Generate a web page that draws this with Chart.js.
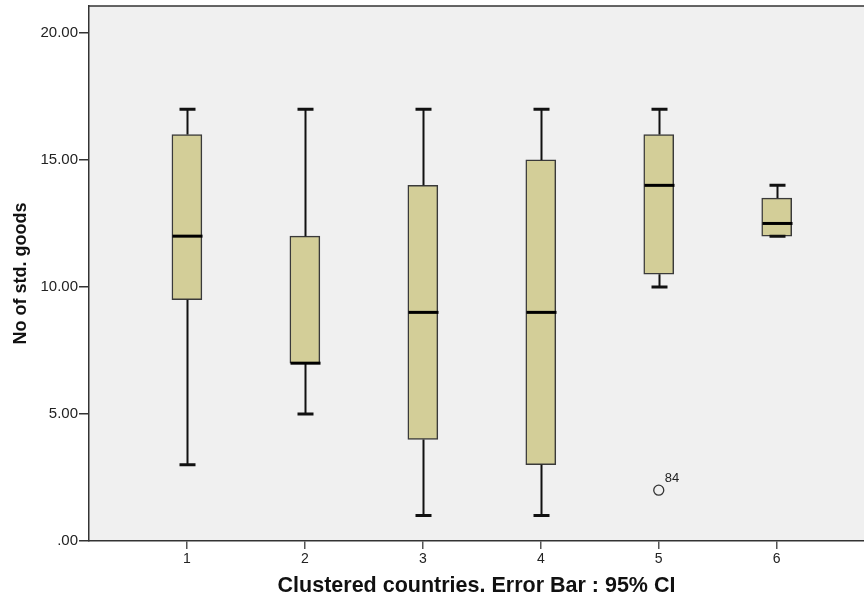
<!DOCTYPE html>
<html>
<head>
<meta charset="utf-8">
<script src="https://cdn.jsdelivr.net/npm/chart.js@4"></script>
<style>
  html, body { margin: 0; padding: 0; background: #fff; }
  #wrap { width: 864px; height: 603px; }
</style>
</head>
<body>
<div id="wrap"><canvas id="box-chart" width="864" height="603"></canvas></div>
<script>
// box plot values per cluster
const groups = ['1', '2', '3', '4', '5', '6'];
const mins = [3, 5, 1, 1, 10, 12];
const q1 = [9.5, 7, 4, 3, 10.5, 12];
const medians = [12, 7, 9, 9, 14, 12.5];
const q3 = [16, 12, 14, 15, 16, 13.5];
const maxs = [17, 17, 17, 17, 17, 14];
const outlierGroup = [5];
const outlierValue = [2];
const outlierCase = ['84'];
const yTicks = [0, 5, 10, 15, 20];

const FONT = '"Liberation Sans", Arial, sans-serif';

const whiskers = {
  id: 'whiskers',
  beforeDraw(chart) {
    const { ctx, chartArea: a } = chart;
    ctx.save();
    ctx.fillStyle = '#f0f0f0';
    ctx.fillRect(a.left, a.top, a.right - a.left, a.bottom - a.top);
    ctx.restore();
  },
  afterDatasetsDraw(chart) {
    const { ctx, chartArea: a } = chart;
    const x = chart.scales.x;
    const y = chart.scales.y;
    ctx.save();
    // top frame line
    ctx.strokeStyle = '#333';
    ctx.lineWidth = 1.5;
    ctx.beginPath();
    ctx.moveTo(a.left, a.top);
    ctx.lineTo(a.right, a.top);
    ctx.stroke();

    groups.forEach((g, i) => {
      const cx = Math.round(x.getPixelForValue(i + 1)) + 0.5;
      ctx.strokeStyle = '#111';
      ctx.lineWidth = 2;
      ctx.beginPath();
      ctx.moveTo(cx, y.getPixelForValue(q3[i]));
      ctx.lineTo(cx, y.getPixelForValue(maxs[i]));
      ctx.moveTo(cx, y.getPixelForValue(q1[i]));
      ctx.lineTo(cx, y.getPixelForValue(mins[i]));
      ctx.stroke();
      ctx.lineWidth = 3;
      ctx.beginPath();
      ctx.moveTo(cx - 8, y.getPixelForValue(maxs[i]));
      ctx.lineTo(cx + 8, y.getPixelForValue(maxs[i]));
      ctx.moveTo(cx - 8, y.getPixelForValue(mins[i]));
      ctx.lineTo(cx + 8, y.getPixelForValue(mins[i]));
      ctx.stroke();
      ctx.strokeStyle = '#000';
      ctx.beginPath();
      ctx.moveTo(cx - 15, y.getPixelForValue(medians[i]));
      ctx.lineTo(cx + 15, y.getPixelForValue(medians[i]));
      ctx.stroke();
    });

    // outlier case labels
    ctx.fillStyle = '#222';
    ctx.font = '13px ' + FONT;
    outlierGroup.forEach((g, i) => {
      ctx.fillText(outlierCase[i], x.getPixelForValue(g) + 6, y.getPixelForValue(outlierValue[i]) - 8);
    });
    ctx.restore();
  }
};

new Chart(document.getElementById('box-chart'), {
  type: 'bar',
  data: {
    datasets: [
      {
        label: 'IQR',
        data: groups.map((g, i) => ({ x: i + 1, y: [q1[i], q3[i]] })),
        backgroundColor: '#d3ce98',
        borderColor: '#3a3a3a',
        borderWidth: 1.5,
        borderSkipped: false,
        barThickness: 30,
      },
      {
        type: 'scatter',
        label: 'Outliers',
        data: outlierGroup.map((g, i) => ({ x: g, y: outlierValue[i] })),
        pointStyle: 'circle',
        pointRadius: 5,
        backgroundColor: 'rgba(0,0,0,0)',
        borderColor: '#333',
        borderWidth: 1.3,
      },
    ],
  },
  options: {
    responsive: false,
    animation: false,
    layout: { autoPadding: false, padding: { top: 6, right: 0, left: 0, bottom: 0 } },
    plugins: {
      legend: { display: false },
      tooltip: { enabled: false },
    },
    scales: {
      x: {
        type: 'linear',
        offset: false,
        min: 0.17,
        max: 6.74,
        afterBuildTicks: (s) => { s.ticks = groups.map((g, i) => ({ value: i + 1 })); },
        afterFit: (s) => { s.height = 62; s.paddingLeft = 0; s.paddingRight = 0; },
        ticks: {
          callback: (v) => groups[v - 1],
          color: '#222',
          font: { family: FONT, size: 14 },
          padding: 2,
        },
        grid: { offset: false, drawOnChartArea: false, drawTicks: true, tickLength: 8, color: '#555', lineWidth: 1.5 },
        border: { color: '#333', width: 1.5 },
        title: {
          display: true,
          text: 'Clustered countries. Error Bar : 95% CI',
          color: '#111',
          font: { family: FONT, size: 21.5, weight: 'bold' },
          padding: { top: 7 },
        },
      },
      y: {
        min: 0,
        max: 21.06,
        afterBuildTicks: (s) => { s.ticks = yTicks.map((v) => ({ value: v })); },
        afterFit: (s) => { s.width = 89; s.paddingTop = 0; s.paddingBottom = 0; },
        ticks: {
          callback: (v) => (v === 0 ? '.00' : v.toFixed(2)),
          color: '#222',
          font: { family: FONT, size: 15 },
          padding: 1,
        },
        grid: { drawOnChartArea: false, drawTicks: true, tickLength: 10, color: '#333', lineWidth: 1.5 },
        border: { color: '#333', width: 1.5 },
        title: {
          display: true,
          text: 'No of std. goods',
          color: '#111',
          font: { family: FONT, size: 18, weight: 'bold' },
          padding: { top: 10, bottom: 0 },
        },
      },
    },
  },
  plugins: [whiskers],
});
</script>
</body>
</html>
